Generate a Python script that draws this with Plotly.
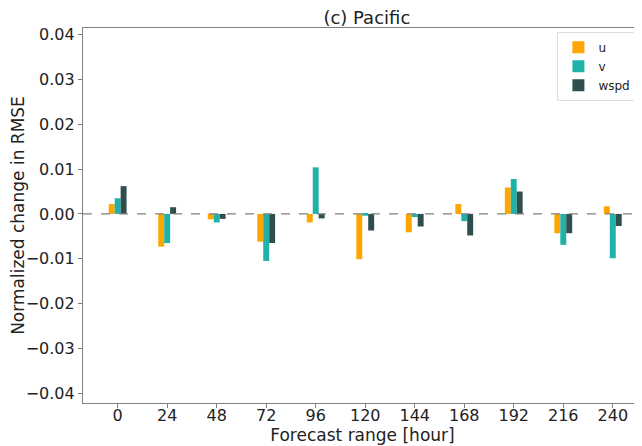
import plotly.graph_objects as go

hours = ["0", "24", "48", "72", "96", "120", "144", "168", "192", "216", "240"]
u_vals = [0.0022, -0.0073, -0.0012, -0.0062, -0.0019, -0.0101, -0.0041, 0.0022, 0.0059, -0.0043, 0.0017]
v_vals = [0.0035, -0.0065, -0.0019, -0.0105, 0.0104, -0.0004, -0.0007, -0.0016, 0.0078, -0.0069, -0.0099]
wspd_vals = [0.0062, 0.0015, -0.0011, -0.0065, -0.0010, -0.0037, -0.0028, -0.0048, 0.0050, -0.0043, -0.0027]
y_ticks = [-0.04, -0.03, -0.02, -0.01, 0.0, 0.01, 0.02, 0.03, 0.04]

x = list(range(len(hours)))
font = "DejaVu Sans, Liberation Sans, sans-serif"

fig = go.Figure()
for name, vals, col in [("u", u_vals, "#FFA500"), ("v", v_vals, "#20B2AA"), ("wspd", wspd_vals, "#2F4F4F")]:
    fig.add_trace(go.Bar(x=x, y=vals, name=name, marker=dict(color=col, line=dict(width=0))))

fig.add_hline(y=0, line=dict(color="#808080", width=1.2, dash="dash"))

# page body has ~8px margin, so figure is 634x438 placed at (8, 8)
fig.update_layout(
    width=634, height=438,
    margin=dict(l=75, r=0, t=20, b=43, autoexpand=False),
    paper_bgcolor="white", plot_bgcolor="white",
    barmode="group", bargap=0.64, bargroupgap=0,
    font=dict(family=font, size=16, color="#222"),
    title=dict(text="(c) Pacific", x=0.566, xanchor="center", y=1 - 9.5 / 438, yanchor="middle",
               font=dict(size=18, color="#222")),
    legend=dict(x=0.99, xanchor="right", y=0.99, yanchor="top",
                bgcolor="white", bordercolor="#DDDDDD", borderwidth=1,
                font=dict(size=12), itemwidth=30, tracegroupgap=0),
    showlegend=True,
)
fig.update_xaxes(
    range=[-0.7, 10.59], tickmode="array", tickvals=x, ticktext=hours, automargin=False,
    showline=True, linecolor="#808080", linewidth=1.2, mirror=True,
    ticks="outside", ticklen=4, tickcolor="#808080", showgrid=False, zeroline=False,
    ticklabelstandoff=-6,
    title=dict(text="Forecast range [hour]", font=dict(size=17), standoff=0),
)
fig.update_yaxes(
    range=[-0.0422, 0.0415], tickmode="array", tickvals=y_ticks, automargin=False,
    ticktext=[("−" if v < 0 else "") + f"{abs(v):.2f}" for v in y_ticks],
    showline=True, linecolor="#808080", linewidth=1.2,
    ticks="outside", ticklen=4, tickcolor="#808080", showgrid=False, zeroline=False,
    title=dict(text="Normalized change in RMSE", font=dict(size=17), standoff=6),
)

fig.write_html("out.html")
